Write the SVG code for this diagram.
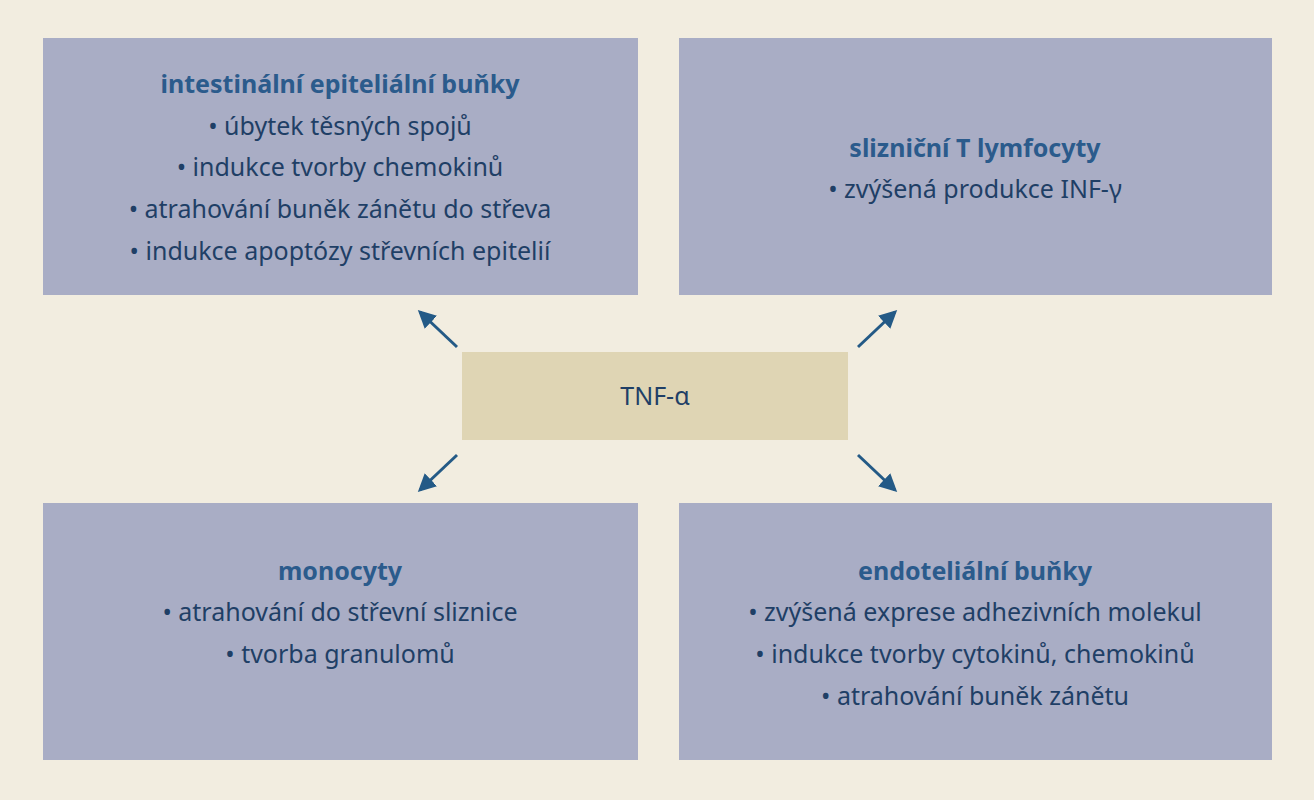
<svg xmlns="http://www.w3.org/2000/svg" width="1314" height="800" viewBox="0 0 1314 800">
<style>
.box{fill:#a9adc5}
.t{font-family:"Noto Sans","Open Sans",sans-serif;font-size:25px;fill:#1f3f66;text-anchor:middle}
.h{font-weight:bold;fill:#2b5b8c}
.c{stroke:#245a86;stroke-width:3;fill:none}
</style>
<defs><marker id="a" markerWidth="6" markerHeight="6" refX="5" refY="3" orient="auto"><path d="M0,0 L6,3 L0,6 Z" fill="#245a86"/></marker></defs>
<rect width="1314" height="800" fill="#f2ede0"/>
<g id="n1"><rect class="box" x="43" y="38" width="595" height="257"/>
<text class="t h" x="340" y="93">intestinální epiteliální buňky</text>
<text class="t" x="340" y="135">• úbytek těsných spojů</text>
<text class="t" x="340" y="176">• indukce tvorby chemokinů</text>
<text class="t" x="340" y="218">• atrahování buněk zánětu do střeva</text>
<text class="t" x="340" y="260">• indukce apoptózy střevních epitelií</text></g>
<g id="n2"><rect class="box" x="679" y="38" width="593" height="257"/>
<text class="t h" x="975" y="157">slizniční T lymfocyty</text>
<text class="t" x="975" y="198">• zvýšená produkce INF-γ</text></g>
<g id="n0"><rect x="462" y="352" width="386" height="88" fill="#dfd5b4"/>
<text class="t" x="655" y="405">TNF-α</text></g>
<g id="n3"><rect class="box" x="43" y="503" width="595" height="257"/>
<text class="t h" x="340" y="580">monocyty</text>
<text class="t" x="340" y="621">• atrahování do střevní sliznice</text>
<text class="t" x="340" y="663">• tvorba granulomů</text></g>
<g id="n4"><rect class="box" x="679" y="503" width="593" height="257"/>
<text class="t h" x="975" y="580">endoteliální buňky</text>
<text class="t" x="975" y="621">• zvýšená exprese adhezivních molekul</text>
<text class="t" x="975" y="663">• indukce tvorby cytokinů, chemokinů</text>
<text class="t" x="975" y="705">• atrahování buněk zánětu</text></g>
<g id="connectors">
<line class="c" x1="457" y1="347" x2="420" y2="312" marker-end="url(#a)"/>
<line class="c" x1="858" y1="347" x2="895" y2="312" marker-end="url(#a)"/>
<line class="c" x1="457" y1="455" x2="420" y2="490" marker-end="url(#a)"/>
<line class="c" x1="858" y1="455" x2="895" y2="490" marker-end="url(#a)"/>
</g>
</svg>
